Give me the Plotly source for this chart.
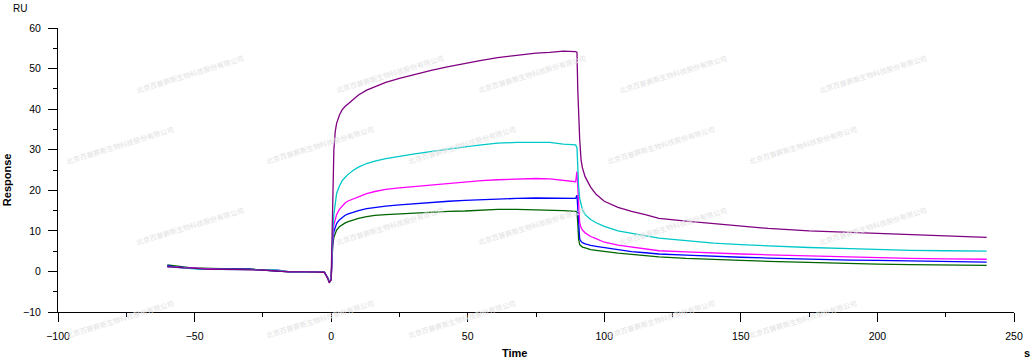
import plotly.graph_objects as go

# ---- data ----
t_base = [-60, -57, -54, -51, -48, -45, -40, -35, -30, -25, -20, -15, -10, -5, -2.5, -1.3, -0.7, 0]
t_assoc = [0.3, 0.6, 1, 1.5, 2, 3, 4, 5, 6, 8, 10, 13, 16, 20, 25, 30, 37, 43, 49, 55, 61, 68, 75, 80, 85, 89.5]
t_dissoc = [90, 90.3, 90.6, 91, 91.5, 92, 93, 94, 95, 97, 100, 105, 110, 115, 120, 130, 140, 150, 160, 175, 190, 200, 212, 225, 240]

base_purple = [1.2, 1.0, 0.9, 0.8, 0.6, 0.5, 0.5, 0.5, 0.45, 0.35, 0.1, -0.1, -0.1, -0.15, -0.2, -1.7, -2.8, -2.1]
base_cyan = [1.2, 1.0, 0.8, 0.7, 0.5, 0.5, 0.5, 0.5, 0.5, 0.4, 0.4, -0.1, -0.1, -0.15, -0.2, -1.6, -2.6, -2.0]
base_magenta = [1.1, 1.0, 0.9, 0.8, 0.6, 0.5, 0.5, 0.5, 0.5, 0.45, 0.4, -0.1, -0.1, -0.15, -0.2, -1.6, -2.6, -2.0]
base_blue = [1.4, 1.1, 1.0, 0.8, 0.7, 0.6, 0.6, 0.6, 0.55, 0.3, 0.1, -0.1, -0.1, -0.15, -0.2, -1.5, -2.5, -1.9]
base_green = [1.6, 1.3, 1.1, 0.9, 0.8, 0.8, 0.7, 0.7, 0.65, 0.3, 0.1, -0.1, -0.1, -0.15, -0.2, -1.5, -2.5, -1.9]

assoc_purple = [8, 22, 30, 34.5, 36.5, 38.5, 39.8, 40.6, 41.2, 42.5, 43.5, 44.7, 45.6, 46.6, 47.6, 48.5, 49.6, 50.5, 51.3, 52.0, 52.7, 53.3, 53.8, 54.0, 54.3, 54.2]
assoc_cyan = [5, 10, 14, 17.5, 19.2, 21, 22.3, 23.1, 23.8, 24.9, 25.7, 26.6, 27.2, 27.8, 28.4, 28.9, 29.6, 30.2, 30.7, 31.2, 31.6, 31.8, 31.9, 31.8, 31.4, 31.2]
assoc_magenta = [4, 8, 11.5, 13, 14, 15.3, 16.2, 16.8, 17.3, 17.9, 18.5, 19.2, 19.7, 20.2, 20.6, 20.9, 21.4, 21.8, 22.1, 22.4, 22.6, 22.8, 22.9, 22.8, 22.5, 22.1]
assoc_blue = [4, 7.5, 9.8, 11, 11.8, 12.7, 13.3, 13.8, 14.1, 14.6, 15.0, 15.5, 15.8, 16.1, 16.4, 16.7, 17.0, 17.3, 17.5, 17.7, 17.9, 18.0, 18.1, 18.1, 18.1, 18.0]
assoc_green = [3.5, 6.5, 8.4, 9.5, 10.2, 11.0, 11.5, 11.9, 12.2, 12.7, 13.1, 13.5, 13.8, 14.0, 14.2, 14.4, 14.6, 14.8, 14.9, 15.1, 15.3, 15.3, 15.2, 15.1, 15.0, 14.8]

dissoc_purple = [54.0, 44.7, 38, 32.5, 27.5, 25.5, 23.3, 22.0, 20.8, 19.0, 17.3, 15.8, 14.8, 14.0, 13.1, 12.4, 11.8, 11.1, 10.6, 10.0, 9.6, 9.4, 9.1, 8.8, 8.4]
dissoc_cyan = [30.5, 25, 21, 18, 16.3, 15.2, 14, 13.3, 12.8, 12.0, 11.1, 10.0, 9.4, 8.8, 8.2, 7.6, 7.0, 6.6, 6.3, 5.9, 5.6, 5.4, 5.2, 5.1, 5.0]
dissoc_magenta = [24.6, 20, 15, 12, 10.8, 10.2, 9.5, 9.0, 8.6, 8.1, 7.2, 6.5, 6.0, 5.5, 5.1, 4.8, 4.5, 4.3, 4.1, 3.8, 3.5, 3.4, 3.2, 3.1, 3.0]
dissoc_blue = [18.8, 15, 10.5, 8.0, 7.4, 7.1, 6.8, 6.6, 6.4, 6.2, 5.9, 5.3, 4.9, 4.6, 4.3, 4.0, 3.7, 3.5, 3.3, 3.0, 2.8, 2.7, 2.6, 2.5, 2.3]
dissoc_green = [14.8, 11.9, 8, 6.6, 6.2, 6.0, 5.8, 5.6, 5.4, 5.2, 4.9, 4.5, 4.2, 3.9, 3.6, 3.2, 2.9, 2.7, 2.5, 2.2, 2.0, 1.8, 1.7, 1.6, 1.5]

series = [
    ("green", "#006400", base_green, assoc_green, dissoc_green),
    ("blue", "#0000FF", base_blue, assoc_blue, dissoc_blue),
    ("magenta", "#FF00FF", base_magenta, assoc_magenta, dissoc_magenta),
    ("cyan", "#00C8C8", base_cyan, assoc_cyan, dissoc_cyan),
    ("purple", "#800080", base_purple, assoc_purple, dissoc_purple),
]

x_ticks = [-100, -50, 0, 50, 100, 150, 200, 250]
y_ticks = [-10, 0, 10, 20, 30, 40, 50, 60]
watermark = "北京百普赛斯生物科技股份有限公司"

W, H = 1035, 361
L, R, T, B = 58, 18, 28, 49

fig = go.Figure()
t_all = t_base + t_assoc + t_dissoc
for name, color, b, a, d in series:
    fig.add_trace(go.Scatter(x=t_all, y=b + a + d, mode="lines", name=name,
                             line=dict(color=color, width=1.3), showlegend=False))

font = "Arial, Liberation Sans, sans-serif"
axis_common = dict(showline=True, linecolor="black", linewidth=1, showgrid=False, zeroline=False,
                   ticks="outside", ticklen=9, tickwidth=1, tickcolor="black",
                   tickfont=dict(family=font, size=10.5, color="black"))
fig.update_xaxes(range=[-100, 250], tickvals=x_ticks, ticklabelstandoff=5,
                 minor=dict(dtick=25, tick0=0, ticks="outside", ticklen=4, tickcolor="black", tickwidth=1),
                 **axis_common)
fig.update_yaxes(range=[-10, 60], tickvals=y_ticks, ticklabelstandoff=5,
                 minor=dict(dtick=5, tick0=0, ticks="outside", ticklen=4, tickcolor="black", tickwidth=1),
                 **axis_common)

def px(xp, yp):
    return (xp - L) / (W - L - R), (H - B - yp) / (H - T - B)

anns = []
# watermarks (tiled)
for row_y, xs in [(50, [133, 333, 533, 733, 933]), (145, [63, 263, 463, 663, 863]),
                  (250, [133, 333, 533, 733, 933]), (343, [63, 263, 463, 663, 863])]:
    for xw in xs:
        xp, yp = px(xw, row_y)
        anns.append(dict(x=xp, y=yp, xref="paper", yref="paper", text=watermark, showarrow=False,
                         textangle=-17, font=dict(family="Noto Sans CJK SC", size=7, color="#e2e2e2")))

for txt, xw, yw, bold, size, ang in [("RU", 19.5, 8, False, 10, 0), ("Time", 516, 353, True, 11, 0),
                                    ("s", 1030, 353, True, 11, 0), ("Response", 7, 180, True, 11, -90)]:
    xp, yp = px(xw, yw)
    anns.append(dict(x=xp, y=yp, xref="paper", yref="paper", text=f"<b>{txt}</b>" if bold else txt,
                     showarrow=False, textangle=ang, xanchor="center", yanchor="middle",
                     font=dict(family=font, size=size, color="black")))

fig.update_layout(width=W, height=H, margin=dict(l=L, r=R, t=T, b=B), paper_bgcolor="white",
                  plot_bgcolor="white", annotations=anns)
fig.write_html("out.html")
